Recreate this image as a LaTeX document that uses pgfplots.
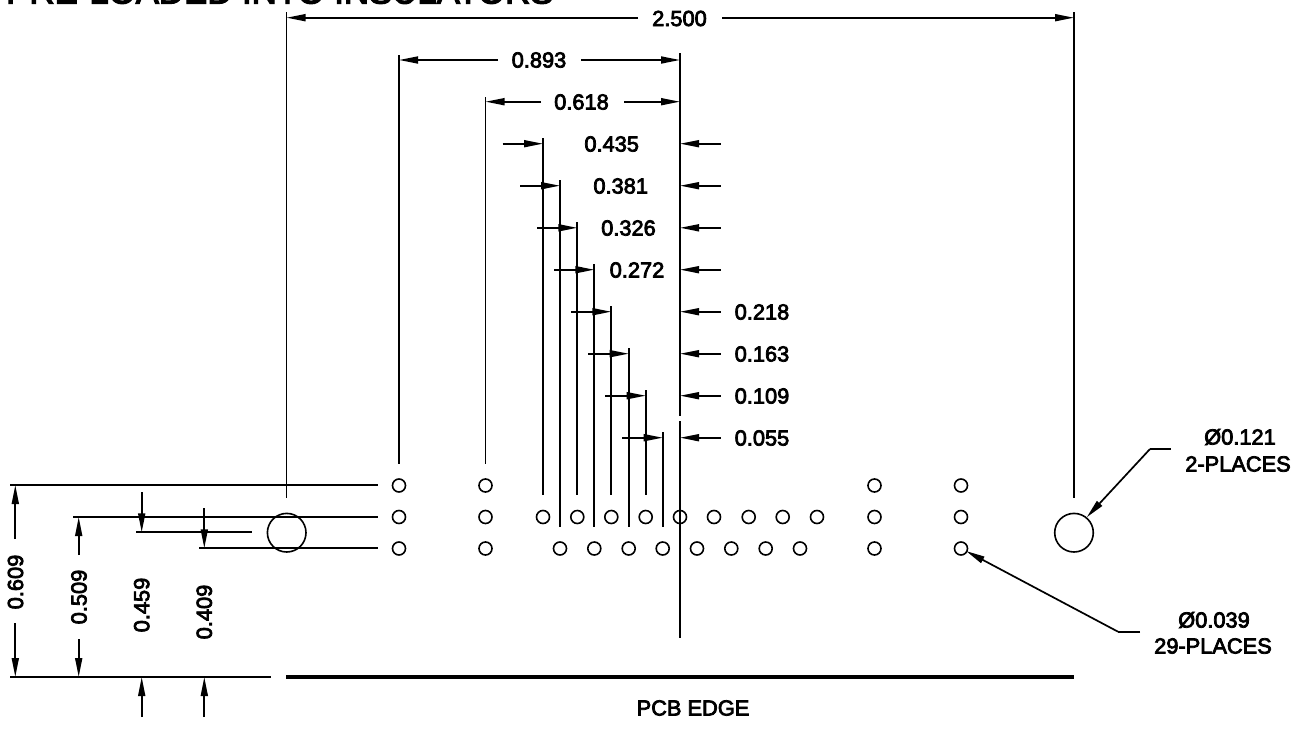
\documentclass[border=0pt]{standalone}
\usepackage{fontspec}
\setmainfont{Liberation Sans}[FakeBold=3.5]
\usepackage{pgfplots}
\pgfplotsset{compat=1.18}
\usetikzlibrary{arrows.meta}

% everything in reference pixels, y runs downwards
\newcommand{\seg}[4]{\addplot[lw] coordinates {(#1,#2) (#3,#4)};}
\newcommand{\arr}[4]{\addplot[lw,-{Triangle[length=19pt,width=7pt]}] coordinates {(#1,#2) (#3,#4)};}
\newcommand{\lab}[3]{\node[inner sep=0pt,font=\fontsize{21.8}{24}\selectfont] at (axis cs:#1,#2) {#3};}
\newcommand{\vlab}[3]{\node[inner sep=0pt,rotate=90,font=\fontsize{21.8}{24}\selectfont] at (axis cs:#1,#2) {#3};}

\begin{document}
\begin{tikzpicture}
\useasboundingbox (0,0) rectangle (1300pt,728pt);
\clip (0,0) rectangle (1300pt,728pt);
\begin{axis}[
    scale only axis, width=1300pt, height=728pt,
    xmin=0, xmax=1300, ymin=0, ymax=728, y dir=reverse,
    hide axis, clip=false,
    lw/.style={black,line width=1.7pt,mark=none},
]
% holes
\addplot[only marks,mark=o,mark size=6.5pt,mark options={line width=1.6pt,black}] coordinates {
    (399,485.5) (485.5,485.5) (874.5,485.5) (961,485.5)
    (399,517) (485.5,517) (543,517) (577.3,517) (611.3,517) (645.7,517) (680,517)
    (714,517) (748.7,517) (782.7,517) (817,517) (874.5,517) (961,517)
    (399,548.5) (485.5,548.5) (560,548.5) (594.3,548.5) (628.7,548.5) (662.7,548.5)
    (697,548.5) (731.3,548.5) (765.7,548.5) (800,548.5) (874.5,548.5) (961,548.5)
};
\addplot[only marks,mark=o,mark size=19.3pt,mark options={line width=1.6pt,black}] coordinates {
    (286.7,532.7) (1074,532.7)
};

% extension lines
\seg{286.5}{12}{286.5}{498}
\seg{1074}{12}{1074}{498}
\seg{399}{55}{399}{464}
\seg{485.5}{97}{485.5}{464}
\seg{680}{53}{680}{140}
\addplot[black,line width=2.3pt,mark=none] coordinates {(680,140) (680,416)};
\seg{680}{421}{680}{638}
\seg{543}{138}{543}{495}
\seg{560}{180}{560}{527}
\seg{577.3}{222}{577.3}{495}
\seg{594.3}{264}{594.3}{527}
\seg{611.3}{306}{611.3}{495}
\seg{628.7}{348}{628.7}{527}
\seg{645.7}{390}{645.7}{495}
\seg{662.7}{432}{662.7}{527}

% top dimensions
\arr{638}{17.7}{286.5}{17.7}
\arr{722}{17.7}{1074}{17.7}
\arr{498}{60}{399}{60}
\arr{581}{60}{680}{60}
\arr{541}{101.7}{485.5}{101.7}
\arr{624}{101.7}{680}{101.7}

% stepped pitch dimensions
\arr{502.7}{143.7}{543}{143.7}
\arr{520}{185.7}{560}{185.7}
\arr{537}{227.8}{577.3}{227.8}
\arr{554}{269.7}{594.3}{269.7}
\arr{571}{311.7}{611.3}{311.7}
\arr{588.3}{353.7}{628.7}{353.7}
\arr{605}{395.7}{645.7}{395.7}
\arr{622}{437.7}{662.7}{437.7}
\arr{720.7}{143.7}{680}{143.7}
\arr{720.7}{185.7}{680}{185.7}
\arr{720.7}{227.8}{680}{227.8}
\arr{720.7}{269.7}{680}{269.7}
\arr{720.7}{311.7}{680}{311.7}
\arr{720.7}{353.7}{680}{353.7}
\arr{720.7}{395.7}{680}{395.7}
\arr{720.7}{437.7}{680}{437.7}

% left side heights
\seg{10}{485}{378}{485}
\seg{73}{517}{378}{517}
\seg{136}{532.3}{252}{532.3}
\seg{199}{548.3}{378}{548.3}
\addplot[black,line width=1.8pt,mark=none] coordinates {(10,677) (271,677)};
\addplot[black,line width=3.8pt,mark=none] coordinates {(286,677) (1074,677)};
\arr{15.3}{539}{15.3}{485}
\arr{15.3}{623}{15.3}{677}
\arr{78.7}{555}{78.7}{517}
\arr{78.7}{639}{78.7}{677}
\arr{141.7}{492}{141.7}{532.3}
\arr{141.7}{717}{141.7}{677}
\arr{204.3}{508}{204.3}{548.3}
\arr{204.3}{717}{204.3}{677}

% leaders
\seg{1170.7}{449}{1150}{449}
\arr{1150}{449}{1086.7}{517.3}
\seg{1140}{631.7}{1118}{631.7}
\arr{1118}{631.7}{966}{551}

% labels
\lab{679.5}{18.5}{2.500}
\lab{539}{60}{0.893}
\lab{581.5}{102}{0.618}
\lab{611.7}{144}{0.435}
\lab{620.7}{186}{0.381}
\lab{628.5}{228}{0.326}
\lab{637}{270}{0.272}
\lab{762}{312}{0.218}
\lab{762}{354}{0.163}
\lab{762}{396}{0.109}
\lab{762}{438}{0.055}
\vlab{15.5}{582}{0.609}
\vlab{79}{597}{0.509}
\vlab{141.7}{605}{0.459}
\vlab{204.3}{612}{0.409}
\lab{1240}{437}{Ø0.121}
\lab{1238}{464}{2-PLACES}
\lab{1214}{620}{Ø0.039}
\lab{1213}{646}{29-PLACES}
\lab{693}{708}{PCB EDGE}
\node[inner sep=0pt,anchor=base west,font=\fontsize{34.8}{36}\selectfont] at (axis cs:6,3.5) {PRE-LOADED INTO INSULATORS};
\end{axis}
\end{tikzpicture}
\end{document}
